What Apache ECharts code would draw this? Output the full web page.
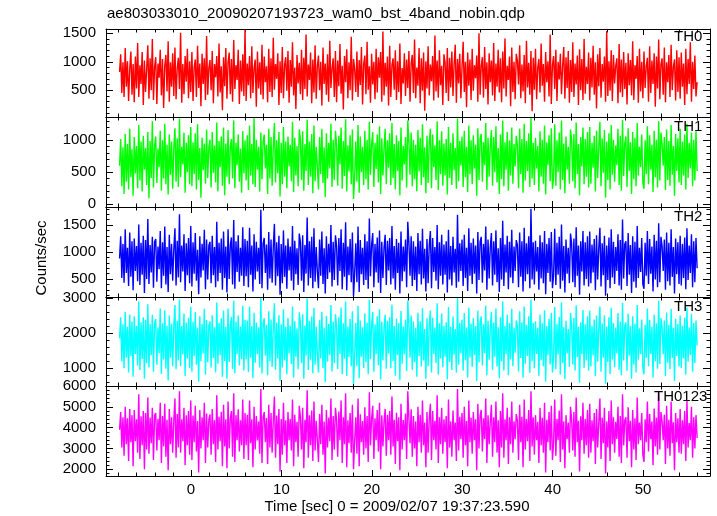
<!DOCTYPE html>
<html><head><meta charset="utf-8">
<script src="https://cdn.jsdelivr.net/npm/echarts@6/dist/echarts.min.js"></script>
<style>html,body{margin:0;padding:0;background:#fff}#c{width:717px;height:516px}</style>
</head><body><div id="c"></div>
<script>
// ---- data ----
const titleText = 'ae803033010_20090207193723_wam0_bst_4band_nobin.qdp';
const xTitle = 'Time [sec] 0 = 2009/02/07 19:37:23.590';
const yTitle = 'Counts/sec';
const bandNames = ['TH0', 'TH1', 'TH2', 'TH3', 'TH0123'];
const timeStart = -7.9;   // first bin time [s]
const timeStep = 0.125;   // bin width [s]
const xMajorTicks = [0, 10, 20, 30, 40, 50];

const TH0 = [
820,1130,450,990,380,1240,560,1010,310,870,1180,420,960,290,1090,530,
1330,380,940,610,1170,240,1020,470,880,1290,350,1060,500,1400,330,910,
1080,260,970,720,1210,410,1050,190,930,1120,480,1360,300,990,560,1150,
400,1250,340,880,1070,520,1510,280,960,430,1100,650,1230,360,1010,470,
1170,310,900,1040,380,1280,540,970,220,1140,610,1060,330,1450,420,890,
1030,500,1190,270,960,730,1100,390,1320,460,920,150,1080,570,1240,350,
990,1160,430,1050,300,1380,520,940,680,1210,260,1020,480,1130,400,1560,
310,970,590,1100,360,1270,450,880,1040,210,1180,530,990,420,1300,340,
1090,640,920,290,1230,470,1060,380,1420,510,960,700,1150,240,1010,450,
1260,360,940,1080,490,1190,280,1030,560,1340,410,900,170,1120,620,980,
430,1210,330,1070,520,1480,390,950,680,1160,270,1040,460,1290,350,930,
1110,500,1000,230,1250,610,970,420,1130,300,1370,540,880,1060,380,1190,
290,1020,570,1310,440,930,160,1100,640,1220,360,990,500,1440,320,1050,
870,470,1180,380,1030,590,1260,250,960,1110,430,1350,510,920,280,1140,
600,1000,340,1230,460,1080,720,1170,300,1530,410,980,560,1090,230,1280,
380,940,1060,510,1200,330,1010,470,1320,260,890,620,1150,400,1040,540,
1190,300,970,1120,450,1390,360,900,580,1240,270,1060,490,1160,140,1010,
530,1270,410,950,660,1100,320,1460,480,1020,370,1200,590,930,240,1130,
990,450,1240,310,1070,550,1180,400,960,1300,280,1050,620,1140,360,910,
1350,470,1000,200,1160,580,1040,330,1230,490,940,710,1110,300,1500,420,
920,1080,370,1260,520,990,250,1150,640,1020,410,1330,310,970,560,1210,
460,1060,290,1180,530,1410,390,930,680,1090,220,1250,470,1000,340,1140,
1020,600,1290,360,950,480,1120,270,1370,550,980,420,1190,130,1070,510,
1230,340,900,1050,460,1320,580,960,300,1170,640,1010,390,1480,260,940,
1100,520,1210,310,1000,690,1140,430,920,1260,350,1080,540,1190,280,1030,
470,1340,380,970,600,1110,240,1220,500,1050,330,1400,440,910,610,1160,
320,1070,550,1280,420,990,180,1130,570,1240,370,960,650,1090,300,1540,
400,1010,490,1200,310,1120,620,930,1060,270,1310,460,1040,380,1170,520,
980,250,1150,590,1030,410,1360,330,940,700,1100,280,1230,480,1000,360,
1180,540,920,1070,300,1270,450,1020,610,1150,210,1090,530,1390,340,960,
1060,420,1250,290,990,640,1120,380,1300,500,910,1040,320,1200,470,1080,
350,1160,560,970,240,1230,430,1050,610,1340,300,1000,520,1110,390,640];

const TH1 = [
600,1020,280,890,160,1100,350,940,230,1180,420,860,130,1050,480,910,
250,1240,370,980,200,1070,540,880,300,1130,90,990,410,1300,260,920,
1060,330,870,580,1150,210,1000,400,1260,310,930,150,1090,460,980,240,
880,1190,350,1030,270,1340,420,900,620,1120,180,960,500,1080,310,1210,
280,970,470,1110,230,1250,380,880,100,1040,530,950,320,1170,410,890,
1010,260,1130,490,920,340,1280,200,990,580,1060,290,1200,140,950,430,
1160,310,900,1020,400,1310,250,960,610,1090,350,870,180,1140,480,1000,
370,1080,220,1230,450,940,310,1350,270,1010,540,900,200,1120,390,980,
1090,560,930,160,1180,400,1050,290,890,1270,340,1000,480,1130,120,960,
310,1210,430,980,250,1060,590,930,360,1290,190,1040,450,910,280,1170,
1020,380,1140,210,940,520,1320,300,980,430,1100,170,1230,360,900,600,
230,1050,470,1180,330,890,110,1110,400,960,560,1260,270,1010,380,1150,
950,290,1070,620,1200,240,990,440,1330,200,920,510,1080,310,1170,80,
420,980,350,1240,180,1060,500,900,300,1150,390,1010,230,1290,460,930,
1130,270,960,550,1090,340,1220,160,1030,450,880,1180,310,1000,570,1110,
300,1270,410,940,230,1080,520,990,140,1200,370,910,620,1050,260,1310,
980,460,1120,280,1010,390,930,200,1160,510,1040,300,1250,420,890,170,
1070,330,960,1180,250,1090,580,920,380,1300,220,1000,470,1140,290,950,
450,1020,150,1210,410,960,300,1110,530,880,240,1340,360,990,600,1060,
270,1150,420,900,190,1230,470,1000,310,1080,560,930,130,1190,380,1020,
1100,350,970,610,1270,220,1040,430,910,1160,290,1050,500,1220,340,880,
160,1090,390,1310,280,970,540,1130,210,1000,450,1200,320,940,590,1070,
930,250,1180,470,1020,180,1260,370,990,520,1110,270,1350,400,960,300,
1040,560,910,200,1140,430,1010,320,1230,150,970,610,1080,360,1190,240,
420,1250,290,1000,500,1120,230,1310,380,950,170,1060,540,900,320,1170,
990,360,1100,250,1280,470,940,140,1050,590,1200,310,1020,430,1130,260,
1210,320,960,570,1070,200,1150,410,890,1290,280,1030,490,1160,100,980,
380,1110,230,1240,460,1010,350,920,610,1180,300,1070,210,1320,440,950,
1060,270,1190,520,970,160,1130,390,1040,280,1270,450,900,580,1090,330,
240,1000,470,1220,310,1080,540,930,190,1150,420,1010,260,1300,370,1120,
940,600,1050,220,1170,380,990,290,1240,460,910,130,1100,520,1030,340,
1180,300,980,450,1090,230,1260,410,960,560,1120,280,1010,370,1140,520];

const TH2 = [
880,1290,520,1150,430,1420,610,1080,370,1360,540,1200,290,1250,650,1110,
460,1510,390,1170,580,1300,240,1220,500,1610,410,1130,620,1280,340,1190,
1240,450,1100,680,1390,330,1180,560,1470,400,1090,260,1320,590,1150,470,
1050,1440,380,1210,530,1700,440,1120,640,1330,280,1160,570,1260,420,1480,
360,1180,600,1350,470,1040,220,1290,530,1150,660,1410,310,1230,490,1120,
1190,420,1300,570,1090,350,1560,460,1170,610,1250,300,1380,520,1100,250,
1420,500,1130,1270,400,1590,320,1200,630,1310,450,1080,560,1460,370,1240,
550,1210,350,1450,580,1120,270,1330,490,1190,640,1080,410,1780,330,1160,
1260,610,1140,300,1370,510,1230,430,1090,1520,380,1180,550,1300,210,1150,
420,1400,540,1120,320,1250,660,1100,470,1480,290,1210,590,1070,390,1340,
1180,470,1310,260,1130,600,1640,380,1200,520,1280,330,1440,450,1090,640,
330,1230,560,1380,410,1070,230,1290,500,1150,620,1500,360,1190,480,1310,
1120,380,1260,650,1420,310,1170,540,1550,290,1100,570,1240,440,1360,180,
600,1160,440,1470,260,1220,590,1080,390,1330,480,1200,320,1620,550,1130,
1350,350,1150,620,1270,430,1400,240,1190,520,1080,1320,390,1210,660,1260,
400,1480,510,1110,300,1240,610,1170,230,1380,460,1100,640,1230,350,1560,
1170,560,1290,370,1200,480,1100,280,1350,590,1210,400,1430,510,1060,270,
1240,420,1130,1390,330,1260,630,1090,470,1500,310,1180,560,1320,400,1140,
580,1200,250,1410,490,1110,380,1280,620,1060,340,1690,450,1160,650,1230,
370,1320,520,1080,280,1440,560,1170,410,1250,600,1120,230,1370,480,1190,
1280,430,1150,660,1470,300,1230,510,1090,1350,380,1200,580,1400,440,1070,
260,1260,490,1580,370,1140,620,1300,310,1190,530,1410,420,1100,650,1220,
1130,350,1360,540,1200,270,1450,460,1160,590,1290,330,1800,490,1180,400,
1210,640,1090,300,1310,510,1180,420,1390,220,1150,610,1260,450,1370,330,
560,1430,390,1170,580,1280,320,1510,470,1110,250,1230,600,1080,420,1340,
1150,440,1250,350,1460,560,1120,210,1200,640,1390,380,1180,500,1290,360,
1380,420,1140,620,1240,290,1310,490,1070,1450,360,1160,570,1300,190,1120,
480,1270,330,1420,530,1190,410,1090,650,1330,380,1220,300,1600,510,1150,
1200,370,1350,580,1130,240,1290,450,1190,340,1480,520,1080,630,1260,400,
320,1170,560,1390,410,1240,600,1100,270,1320,490,1210,350,1530,440,1280,
1110,650,1230,300,1360,460,1170,380,1420,540,1090,230,1250,590,1180,410,
1300,380,1150,520,1270,310,1440,480,1120,610,1330,350,1200,440,1260,700];

const TH3 = [
1850,2450,1200,2250,1000,2600,1300,2180,880,2520,1350,2330,760,2480,1410,2200,
1080,2900,950,2300,1260,2450,700,2380,1150,2820,1020,2260,1370,2520,900,2290,
2400,1100,2160,1430,2700,840,2280,1250,2650,990,2210,650,2500,1300,2270,1060,
2190,2800,970,2350,1220,2960,1060,2200,1390,2560,780,2300,1280,2440,1010,2750,
900,2320,1340,2600,1100,2150,620,2480,1200,2260,1420,2690,820,2370,1170,2210,
2330,1020,2510,1290,2170,880,2870,1130,2290,1370,2420,760,2640,1210,2180,700,
2700,1180,2230,2460,980,2920,860,2320,1410,2500,1080,2190,1260,2780,940,2380,
1250,2360,890,2750,1300,2200,720,2580,1160,2300,1400,2170,1020,3000,850,2280,
2420,1360,2240,800,2620,1200,2390,1040,2160,2850,960,2300,1270,2510,640,2250,
1020,2680,1230,2180,830,2430,1420,2210,1120,2760,740,2340,1330,2140,970,2590,
2300,1150,2540,700,2220,1360,2990,950,2350,1240,2470,860,2720,1100,2180,1400,
880,2380,1280,2610,1010,2150,600,2490,1190,2260,1380,2800,910,2330,1150,2540,
2210,980,2450,1410,2730,830,2280,1270,2900,780,2190,1320,2400,1060,2620,550,
1380,2290,1060,2770,720,2360,1330,2170,1010,2560,1170,2300,830,2950,1260,2230,
2600,900,2250,1400,2480,1090,2680,680,2320,1230,2160,2520,990,2350,1420,2450,
1000,2810,1210,2200,790,2410,1380,2280,660,2630,1130,2190,1400,2390,920,2930,
2270,1300,2500,960,2330,1170,2150,760,2580,1350,2340,1050,2710,1220,2120,700,
2420,1060,2230,2640,880,2440,1410,2160,1150,2850,820,2280,1280,2560,1030,2200,
1330,2310,680,2740,1180,2180,950,2470,1390,2120,870,3000,1100,2290,1430,2380,
940,2570,1230,2160,740,2720,1310,2270,1040,2420,1380,2200,640,2640,1170,2310,
2480,1080,2250,1430,2780,800,2350,1240,2140,2600,960,2300,1330,2700,1050,2170,
720,2450,1190,2900,940,2200,1400,2520,800,2280,1250,2690,1060,2150,1440,2360,
2190,910,2620,1290,2310,730,2760,1130,2240,1350,2480,870,2950,1200,2290,1000,
2340,1410,2150,790,2530,1230,2280,1060,2650,620,2200,1380,2410,1110,2580,880,
1310,2740,970,2250,1390,2460,820,2880,1150,2170,690,2350,1420,2120,1040,2570,
2220,1110,2430,940,2790,1320,2180,590,2310,1400,2660,1010,2250,1230,2480,930,
2640,1050,2210,1370,2390,780,2500,1190,2130,2760,900,2270,1300,2510,560,2190,
1180,2450,840,2720,1250,2290,1030,2160,1420,2570,960,2330,800,2860,1220,2210,
2300,930,2550,1360,2200,700,2480,1100,2270,880,2800,1240,2140,1400,2390,1010,
830,2240,1300,2700,1060,2370,1410,2180,740,2520,1200,2280,990,2920,1120,2430,
2180,1400,2360,780,2590,1160,2230,980,2690,1290,2150,640,2410,1350,2260,1050,
2500,1010,2210,1280,2440,820,2730,1190,2160,1380,2550,900,2290,1150,2360,1650];

const TH0123 = [
3900,4750,3050,4500,2650,5000,3200,4450,2400,4900,3300,4600,2150,4850,3350,4400,
2800,5600,2500,4550,3150,4800,2000,4700,2950,5450,2750,4480,3250,4950,2450,4600,
4700,2900,4420,3400,5200,2300,4560,3100,5150,2600,4380,1950,4900,3200,4500,2800,
4350,5400,2550,4650,3050,5750,2800,4400,3350,4950,2200,4600,3150,4800,2700,5300,
2450,4580,3300,5050,2850,4320,1850,4850,3000,4500,3400,5200,2300,4680,3050,4380,
4640,2700,4900,3200,4360,2350,5550,2950,4520,3350,4760,2150,5100,3100,4400,2050,
5250,3000,4450,4800,2600,5650,2350,4600,3400,4880,2850,4350,3150,5350,2500,4700,
3150,4620,2450,5300,3250,4400,2100,5000,2950,4560,3380,4300,2750,5850,2300,4500,
4750,3300,4460,2250,5100,3050,4700,2800,4330,5500,2550,4580,3200,4900,1900,4420,
2700,5200,3150,4350,2300,4750,3400,4420,2900,5350,2150,4620,3300,4280,2600,5050,
4520,2950,4950,2050,4380,3300,5800,2550,4600,3150,4820,2400,5250,2900,4330,3400,
2350,4650,3200,5100,2700,4300,1800,4850,3050,4480,3350,5400,2450,4560,2950,4950,
4400,2600,4780,3400,5300,2300,4500,3200,5650,2100,4350,3250,4700,2800,5100,2000,
3350,4500,2750,5400,2150,4640,3300,4320,2700,4980,3000,4560,2350,5700,3150,4420,
5050,2500,4450,3400,4850,2850,5200,2000,4600,3100,4300,4900,2650,4620,3400,4800,
2700,5500,3100,4380,2250,4720,3350,4500,1950,5150,2950,4360,3400,4680,2500,5750,
4480,3250,4880,2600,4560,3000,4300,2150,5000,3300,4620,2800,5300,3150,4250,2100,
4750,2800,4420,5150,2450,4800,3400,4330,2950,5550,2300,4500,3200,4950,2750,4400,
3300,4560,2050,5350,3050,4300,2600,4820,3400,4250,2400,5850,2900,4520,3450,4700,
2550,5000,3150,4320,2150,5300,3300,4480,2750,4750,3400,4400,1950,5150,3000,4580,
4850,2850,4450,3450,5400,2300,4600,3200,4280,5100,2600,4500,3300,5250,2800,4350,
2100,4800,3050,5650,2550,4400,3400,4950,2250,4500,3200,5250,2800,4300,3450,4650,
4350,2450,5100,3300,4520,2100,5350,2950,4420,3350,4850,2400,5750,3100,4500,2700,
4600,3400,4280,2300,4950,3150,4480,2800,5200,1850,4380,3300,4750,2900,5050,2450,
3250,5350,2650,4420,3400,4820,2350,5600,2950,4300,2050,4600,3450,4250,2800,5000,
4380,2900,4750,2600,5450,3300,4330,1900,4550,3400,5200,2750,4420,3150,4850,2550,
5150,2800,4350,3350,4700,2250,4900,3050,4250,5400,2500,4480,3250,4950,1800,4300,
3050,4800,2400,5300,3200,4500,2800,4280,3450,5000,2600,4560,2300,5600,3150,4350,
4500,2550,4980,3350,4330,2100,4850,2950,4450,2450,5450,3200,4250,3400,4700,2700,
2350,4400,3300,5250,2850,4650,3450,4300,2200,4920,3100,4480,2700,5700,2950,4750,
4300,3400,4620,2250,5050,3000,4380,2650,5250,3250,4260,1950,4700,3300,4450,2800,
4900,2750,4350,3200,4800,2400,5300,3050,4220,3400,5000,2550,4500,3000,4600,3500];

// y tick labels per panel
const yMajorTicks = [[500,1000,1500],[0,500,1000],[500,1000,1500],[1000,2000,3000],[2000,3000,4000,5000,6000]];
const yMinorStep = [100, 100, 100, 200, 200];
// axis ranges per panel
const yMin = [30, -45, 167, 496, 1678];
const yMax = [1575, 1365, 1833, 3028, 6000];
const xMin = -9.4, xMax = 57.4;

// ---- layout / style ----
const seriesData = [TH0, TH1, TH2, TH3, TH0123];
const colors = ['#ff0000', '#00ff00', '#0000ff', '#00ffff', '#ff00ff'];
const bounds = [29, 117, 207, 297, 386, 476];
const FONT = '"Liberation Sans", Arial, Helvetica, sans-serif';
const labelPos = [[674, 37], [674, 127], [674, 216.5], [674, 306.5], [654, 397]];

function steps(a, b, s) { const r = []; for (let v = a; v <= b + 1e-9; v += s) r.push(+v.toFixed(6)); return r; }
const xMinorTicks = steps(-8, 56, 2);

const grids = [], xAxes = [], yAxes = [], series = [];
for (let i = 0; i < 5; i++) {
  grids.push({ left: 106, right: 7, top: bounds[i], height: bounds[i + 1] - bounds[i], containLabel: false });
  const line = { show: true, onZero: false, lineStyle: { color: '#000', width: 1 } };
  const noLine = { show: false, onZero: false };
  const mkX = (pos, custom, len, showLine, showLabel) => ({
    type: 'value', gridIndex: i, position: pos, min: xMin, max: xMax,
    axisLine: showLine ? line : noLine,
    axisTick: { show: true, inside: true, length: len, customValues: custom, lineStyle: { color: '#000', width: 1 } },
    axisLabel: showLabel ? { show: true, customValues: xMajorTicks, fontSize: 15, color: '#000', fontFamily: FONT, margin: 6, formatter: v => String(v) } : { show: false },
    splitLine: { show: false }
  });
  xAxes.push(mkX('bottom', xMajorTicks, 6, true, i === 4));
  xAxes.push(mkX('bottom', xMinorTicks, 3.5, false, false));
  xAxes.push(mkX('top', xMajorTicks, 6, true, false));
  xAxes.push(mkX('top', xMinorTicks, 3.5, false, false));
  const ym = yMajorTicks[i];
  const yMinor = steps(Math.ceil(yMin[i] / yMinorStep[i]) * yMinorStep[i], yMax[i], yMinorStep[i]);
  const mkY = (pos, custom, len, showLine, showLabel) => ({
    type: 'value', gridIndex: i, position: pos, min: yMin[i], max: yMax[i],
    axisLine: showLine ? line : noLine,
    axisTick: { show: true, inside: true, length: len, customValues: custom, lineStyle: { color: '#000', width: 1 } },
    axisLabel: showLabel ? { show: true, customValues: ym, fontSize: 15, color: '#000', fontFamily: FONT, margin: 10, formatter: v => String(v) } : { show: false },
    splitLine: { show: false }
  });
  yAxes.push(mkY('left', ym, 7, true, true));
  yAxes.push(mkY('left', yMinor, 3.5, false, false));
  yAxes.push(mkY('right', ym, 7, true, false));
  yAxes.push(mkY('right', yMinor, 3.5, false, false));
  series.push({
    type: 'line', name: bandNames[i], xAxisIndex: 4 * i, yAxisIndex: 4 * i,
    data: seriesData[i].map((v, k) => [timeStart + k * timeStep, v]),
    showSymbol: false, symbol: 'none', silent: true, clip: true,
    lineStyle: { color: colors[i], width: 1.4 }
  });
}

const graphics = [
  { type: 'text', left: 107, top: 6, style: { text: titleText, font: '15px ' + FONT, fill: '#000' } },
  { type: 'text', x: 397, y: 506.5, style: { text: xTitle, font: '15px ' + FONT, fill: '#000', textAlign: 'center', textVerticalAlign: 'middle' } },
  { type: 'text', x: 42, y: 258, rotation: Math.PI / 2, style: { text: yTitle, font: '15px ' + FONT, fill: '#000', textAlign: 'center', textVerticalAlign: 'middle' } }
];
for (let i = 0; i < 5; i++) {
  graphics.push({ type: 'text', x: labelPos[i][0], y: labelPos[i][1], z: 100,
    style: { text: bandNames[i], font: '15px ' + FONT, fill: '#000', textAlign: 'left', textVerticalAlign: 'middle' } });
}

const chart = echarts.init(document.getElementById('c'), null, { renderer: 'canvas' });
chart.setOption({
  animation: false,
  backgroundColor: '#fff',
  grid: grids, xAxis: xAxes, yAxis: yAxes, series: series,
  graphic: graphics
});
</script></body></html>
